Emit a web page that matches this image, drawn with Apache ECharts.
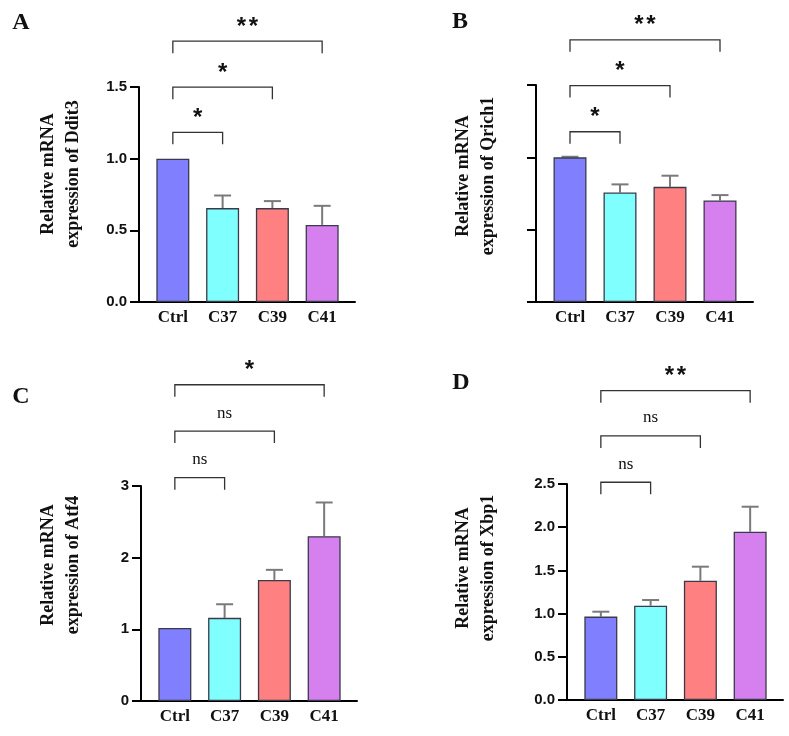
<!DOCTYPE html>
<html>
<head>
<meta charset="utf-8">
<script src="https://cdn.jsdelivr.net/npm/echarts@6/dist/echarts.min.js"></script>
<style>
  html, body { margin: 0; padding: 0; background: #fff; }
  #chart { width: 789px; height: 736px; }
</style>
</head>
<body>
<div id="chart"></div>
<script>
// groups on the x axis
const categories = ["Ctrl", "C37", "C39", "C41"];
const barColors = ["#8080ff", "#80ffff", "#ff8080", "#d680ef"];

// A - Ddit3
const ddit3Mean = [1.0, 0.655, 0.655, 0.538];
const ddit3Err = [0, 0.088, 0.049, 0.133];
const ddit3Ticks = [0, 0.5, 1.0, 1.5];
const ddit3Sig = ["*", "*", "**"];
const ddit3Levels = [1.184, 1.499, 1.82];

// B - Qrich1 (no tick labels in the original)
const qrich1Mean = [1.0, 0.757, 0.796, 0.702];
const qrich1Err = [0.004, 0.056, 0.077, 0.037];
const qrich1Ticks = [0, 0.5, 1.0, 1.5];
const qrich1Sig = ["*", "*", "**"];
const qrich1Levels = [1.177, 1.496, 1.812];

// C - Atf4
const atf4Mean = [1.02, 1.16, 1.69, 2.3];
const atf4Err = [0, 0.19, 0.14, 0.47];
const atf4Ticks = [0, 1, 2, 3];
const atf4Sig = ["ns", "ns", "*"];
const atf4Levels = [3.116, 3.766, 4.413];

// D - Xbp1
const xbp1Mean = [0.965, 1.092, 1.381, 1.948];
const xbp1Err = [0.057, 0.065, 0.162, 0.289];
const xbp1Ticks = [0, 0.5, 1.0, 1.5, 2.0, 2.5];
const xbp1Sig = ["ns", "ns", "**"];
const xbp1Levels = [2.52, 3.056, 3.58];

// every panel compares Ctrl with the others
const comparisons = [[0, 1], [0, 2], [0, 3]];

const SERIF = '"Liberation Serif", "Times New Roman", serif';
const SANS = '"Liberation Sans", Arial, sans-serif';

const panels = [
  {
    letter: "A", gene: "Ddit3", mean: ddit3Mean, err: ddit3Err, ticks: ddit3Ticks,
    sig: ddit3Sig, levels: ddit3Levels, decimals: 1, showLabels: true,
    grid: { left: 139, top: 87, width: 216, height: 215 },
    letterPos: [21, 23], namePos: [61, 174],
  },
  {
    letter: "B", gene: "Qrich1", mean: qrich1Mean, err: qrich1Err, ticks: qrich1Ticks,
    sig: qrich1Sig, levels: qrich1Levels, decimals: 1, showLabels: false,
    grid: { left: 536, top: 85, width: 217, height: 217 },
    letterPos: [460, 22], namePos: [476, 176],
  },
  {
    letter: "C", gene: "Atf4", mean: atf4Mean, err: atf4Err, ticks: atf4Ticks,
    sig: atf4Sig, levels: atf4Levels, decimals: 0, showLabels: true,
    grid: { left: 141, top: 486, width: 216, height: 215 },
    letterPos: [21, 397], namePos: [61, 565],
  },
  {
    letter: "D", gene: "Xbp1", mean: xbp1Mean, err: xbp1Err, ticks: xbp1Ticks,
    sig: xbp1Sig, levels: xbp1Levels, decimals: 1, showLabels: true,
    grid: { left: 567, top: 484, width: 216, height: 216 },
    letterPos: [461, 383], namePos: [476, 568],
  },
];

function errorBarRender(params, api) {
  const mean = api.value(1);
  const err = api.value(2);
  if (!(err > 0)) return null;
  const base = api.coord([api.value(0), mean]);
  const top = api.coord([api.value(0), mean + err]);
  const half = 8.5;
  const style = { stroke: "#7a7a7a", lineWidth: 2 };
  return {
    type: "group",
    children: [
      { type: "line", shape: { x1: base[0], y1: base[1], x2: top[0], y2: top[1] }, style },
      { type: "line", shape: { x1: top[0] - half, y1: top[1], x2: top[0] + half, y2: top[1] }, style },
    ],
  };
}

function bracketRender(sigLabels) {
  return (params, api) => {
    const a = api.coord([api.value(0), api.value(2)]);
    const b = api.coord([api.value(1), api.value(2)]);
    const leg = 12;
    const label = sigLabels[params.dataIndex];
    const star = label.indexOf("*") >= 0;
    // asterisks are drawn one by one so the pair keeps the original spacing
    const texts = star
      ? label.split("").map((ch, k, arr) => ({
          type: "text",
          x: (a[0] + b[0]) / 2 + (k - (arr.length - 1) / 2) * 12,
          y: a[1] - 14,
          style: {
            text: ch,
            align: "center",
            verticalAlign: "middle",
            fill: "#111",
            font: `bold 24px ${SANS}`,
          },
        }))
      : [{
          type: "text",
          x: (a[0] + b[0]) / 2,
          y: a[1] - 18,
          style: {
            text: label,
            align: "center",
            verticalAlign: "middle",
            fill: "#111",
            font: `17px ${SERIF}`,
          },
        }];
    return {
      type: "group",
      children: [
        {
          type: "polyline",
          shape: { points: [[a[0], a[1] + leg], a, b, [b[0], b[1] + leg]] },
          style: { stroke: "#333", lineWidth: 1.3, fill: null },
        },
        ...texts,
      ],
    };
  };
}

const grids = [];
const xAxes = [];
const yAxes = [];
const series = [];
const graphics = [];

panels.forEach((p, i) => {
  grids.push(p.grid);

  xAxes.push({
    type: "value",
    gridIndex: i,
    min: -0.68,
    max: 3.66,
    axisLine: { onZero: false, lineStyle: { color: "#000", width: 2 } },
    axisTick: { show: false },
    splitLine: { show: false },
    axisLabel: {
      customValues: [0, 1, 2, 3],
      formatter: (v) => categories[Math.round(v)] || "",
      color: "#111",
      fontFamily: SERIF,
      fontWeight: "bold",
      fontSize: 17,
      margin: 7,
    },
  });

  const tMin = p.ticks[0];
  const tMax = p.ticks[p.ticks.length - 1];
  yAxes.push({
    type: "value",
    gridIndex: i,
    min: tMin,
    max: tMax,
    interval: p.ticks[1] - p.ticks[0],
    axisLine: { show: true, onZero: false, lineStyle: { color: "#000", width: 2 } },
    axisTick: { show: true, length: 9, lineStyle: { color: "#000", width: 2 } },
    splitLine: { show: false },
    axisLabel: {
      show: p.showLabels,
      formatter: (v) => Number(v).toFixed(p.decimals),
      color: "#111",
      fontFamily: SANS,
      fontWeight: "bold",
      fontSize: 15,
      margin: 12,
    },
  });

  series.push({
    type: "bar",
    xAxisIndex: i,
    yAxisIndex: i,
    barWidth: 33,
    data: p.mean.map((v, k) => ({
      value: [k, v],
      itemStyle: { color: barColors[k], borderColor: "#3a3a4a", borderWidth: 1.3 },
    })),
    silent: true,
    z: 3,
  });

  series.push({
    type: "custom",
    xAxisIndex: i,
    yAxisIndex: i,
    renderItem: errorBarRender,
    data: p.mean.map((v, k) => [k, v, p.err[k]]),
    silent: true,
    z: 2,
  });

  series.push({
    type: "custom",
    xAxisIndex: i,
    yAxisIndex: i,
    clip: false,
    renderItem: bracketRender(p.sig),
    data: comparisons.map((c, k) => [c[0], c[1], p.levels[k]]),
    silent: true,
    z: 4,
  });

  graphics.push({
    type: "text",
    x: p.letterPos[0],
    y: p.letterPos[1],
    style: {
      text: p.letter,
      align: "center",
      verticalAlign: "middle",
      fill: "#111",
      font: `bold 24px ${SERIF}`,
    },
  });

  graphics.push({
    type: "text",
    x: p.namePos[0],
    y: p.namePos[1],
    rotation: Math.PI / 2,
    style: {
      text: "Relative mRNA\nexpression of " + p.gene,
      align: "center",
      verticalAlign: "middle",
      lineHeight: 25,
      fill: "#111",
      font: `bold 18px ${SERIF}`,
    },
  });
});

const chart = echarts.init(document.getElementById("chart"), null, { renderer: "canvas" });
chart.setOption({
  animation: false,
  backgroundColor: "#fff",
  grid: grids,
  xAxis: xAxes,
  yAxis: yAxes,
  series,
  graphic: graphics,
});
</script>
</body>
</html>
